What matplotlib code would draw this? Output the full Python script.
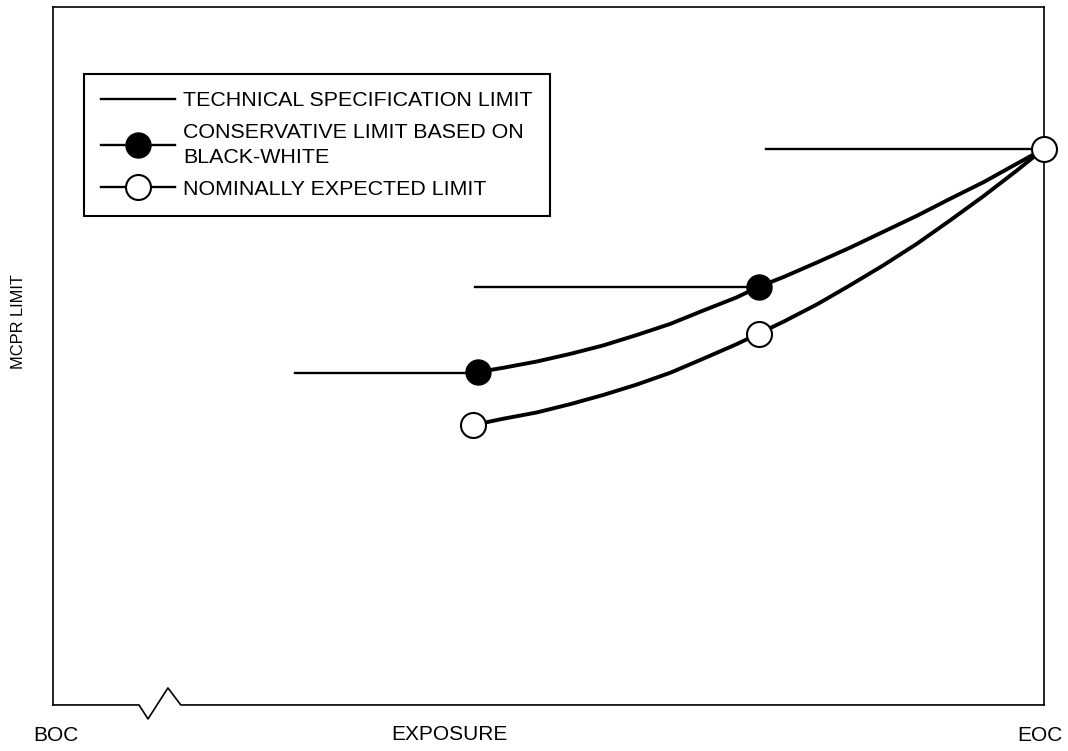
import numpy as np
import matplotlib
matplotlib.use("Agg")
from matplotlib import pyplot as plt
from matplotlib.lines import Line2D

plt.rcParams['font.family'] = ['Liberation Sans', 'DejaVu Sans']

# DATA (exposure in % of cycle, MCPR limit in arbitrary units)
# technical specification limit, stepped: (x start, x end, level)
spec_x0 = [24.4, 42.6, 72.0]
spec_x1 = [42.9, 71.2, 100.0]
spec_y = [47.6, 59.9, 79.7]

# conservative limit based on black-white (curve)
cons_x = [42.9, 45.4, 48.8, 52.2, 55.5, 58.9, 62.3, 65.6, 69.0, 71.2,
          73.7, 77.1, 80.4, 83.8, 87.2, 90.5, 93.9, 97.2, 100.0]
cons_y = [47.7, 48.3, 49.2, 50.3, 51.5, 53.0, 54.6, 56.5, 58.4, 59.9,
          61.3, 63.4, 65.5, 67.8, 70.1, 72.5, 74.9, 77.5, 79.7]
cons_pts_x = [42.9, 71.2]
cons_pts_y = [47.7, 59.9]

# nominally expected limit
nom_x = [42.4, 45.4, 48.8, 52.2, 55.5, 58.9, 62.3, 65.6, 69.0, 71.2,
         73.7, 77.1, 80.4, 83.8, 87.2, 90.5, 93.9, 97.2, 100.0]
nom_y = [40.1, 41.0, 41.9, 43.1, 44.4, 45.9, 47.6, 49.6, 51.7, 53.2,
         54.9, 57.4, 60.1, 63.0, 66.1, 69.4, 72.9, 76.5, 79.7]
nom_pts_x = [42.4, 71.2, 100.0]
nom_pts_y = [40.1, 53.2, 79.7]

x_ticks = [0.3, 99.6]
x_ticklabels = ['BOC', 'EOC']

labels = ['TECHNICAL SPECIFICATION LIMIT',
          'CONSERVATIVE LIMIT BASED ON\nBLACK-WHITE',
          'NOMINALLY EXPECTED LIMIT']

fig = plt.figure(figsize=(10.68, 7.51), dpi=100)
ax = fig.add_axes([0.0496, 0.0613, 0.9279, 0.9294])

# spec limit steps
for a, b, y in zip(spec_x0, spec_x1, spec_y):
    ax.plot([a, b], [y, y], color='black', lw=1.7, zorder=2, clip_on=False)

# curves
ax.plot(cons_x, cons_y, color='black', lw=2.8, zorder=3, clip_on=False,
        solid_joinstyle='round', solid_capstyle='round')
ax.plot(nom_x, nom_y, color='black', lw=2.8, zorder=3, clip_on=False,
        solid_joinstyle='round', solid_capstyle='round')
ax.plot(cons_pts_x, cons_pts_y, 'o', ms=18, mfc='black', mec='black', zorder=4)
ax.plot(nom_pts_x, nom_pts_y, 'o', ms=18, mfc='white', mec='black', mew=1.5,
        zorder=5, clip_on=False)

ax.set_xlim(0, 100)
ax.set_ylim(0, 100)

# frame: bottom spine replaced by a line with an axis-break zigzag
for s in ['left', 'right', 'top']:
    ax.spines[s].set_linewidth(1.2)
ax.spines['bottom'].set_visible(False)
brk_x = [0.0, 0.0868, 0.0959, 0.116, 0.129, 1.0]
brk_y = [0.0, 0.0, -0.020, 0.0244, 0.0, 0.0]
ax.plot(brk_x, brk_y, color='black', lw=1.2, transform=ax.transAxes,
        clip_on=False, zorder=6)

ax.set_yticks([])
ax.set_xticks(x_ticks)
ax.set_xticklabels(x_ticklabels, fontsize=15)
ax.tick_params(axis='x', length=0, pad=15)

ax.set_xlabel('EXPOSURE', fontsize=15)
ax.xaxis.label.set_va('center')
ax.xaxis.set_label_coords(0.40, -0.0425)
ax.set_ylabel('MCPR LIMIT', fontsize=11.8)
ax.yaxis.label.set_va('center')
ax.yaxis.set_label_coords(-0.0343, 0.549)

handles = [Line2D([], [], color='black', lw=1.7),
           Line2D([], [], color='black', lw=1.7, marker='o', ms=18,
                  mfc='black', mec='black'),
           Line2D([], [], color='black', lw=1.7, marker='o', ms=18,
                  mfc='white', mec='black', mew=1.5)]
leg = ax.legend(handles, labels, loc='upper left', bbox_to_anchor=(0.0313, 0.904),
                borderaxespad=0, fontsize=15.4, handlelength=3.45, handletextpad=0.4,
                borderpad=0.8, labelspacing=0.6, fancybox=False, framealpha=1,
                edgecolor='black')
leg.get_frame().set_linewidth(1.5)
for t in leg.get_texts():
    t.set_linespacing(1.4)

fig.savefig('out.png', dpi=100)
